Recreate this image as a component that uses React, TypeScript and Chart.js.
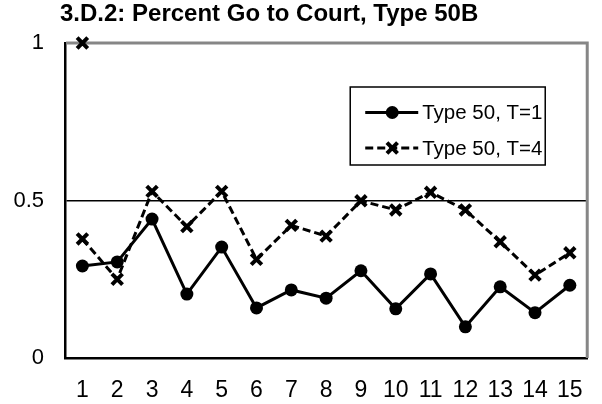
import { useEffect, useRef } from 'react';
import { Chart, registerables } from 'chart.js';

Chart.register(...registerables);

const categories = ['1', '2', '3', '4', '5', '6', '7', '8', '9', '10', '11', '12', '13', '14', '15'];
const seriesT1 = [0.292, 0.305, 0.441, 0.203, 0.352, 0.159, 0.216, 0.19, 0.277, 0.156, 0.267, 0.099, 0.226, 0.144, 0.231];
const seriesT4 = [0.378, 0.25, 0.529, 0.417, 0.529, 0.313, 0.421, 0.387, 0.499, 0.47, 0.526, 0.47, 0.369, 0.263, 0.334];
const seriesT4Extra = [1, null, null, null, null, null, null, null, null, null, null, null, null, null, null];
const yTicks = [0, 0.5, 1];
const titleText = '3.D.2: Percent Go to Court, Type 50B';
const legendLabels = ['Type 50, T=1', 'Type 50, T=4'];

const FONT = "'Liberation Sans', Arial, sans-serif";

function drawMarker(ctx: CanvasRenderingContext2D, style: string, x: number, y: number) {
  ctx.save();
  ctx.setLineDash([]);
  if (style === 'circle') {
    ctx.fillStyle = '#000';
    ctx.beginPath();
    ctx.arc(x, y, 6.5, 0, Math.PI * 2);
    ctx.fill();
  } else {
    const r = 5.3;
    ctx.strokeStyle = '#000';
    ctx.lineWidth = 4;
    ctx.beginPath();
    ctx.moveTo(x - r, y - r);
    ctx.lineTo(x + r, y + r);
    ctx.moveTo(x + r, y - r);
    ctx.lineTo(x - r, y + r);
    ctx.stroke();
  }
  ctx.restore();
}

const framePlugin = {
  id: 'frameTitleLegend',
  beforeDatasetsDraw(chart: any) {
    const { ctx, chartArea: a } = chart;
    ctx.save();
    ctx.strokeStyle = '#868686';
    ctx.lineWidth = 3;
    ctx.beginPath();
    ctx.moveTo(a.left + 1, a.top);
    ctx.lineTo(a.right, a.top);
    ctx.lineTo(a.right, a.bottom);
    ctx.stroke();
    ctx.restore();
  },
  afterDraw(chart: any) {
    const { ctx, chartArea: a } = chart;
    ctx.save();
    // title
    ctx.fillStyle = '#000';
    ctx.font = `bold 24px ${FONT}`;
    ctx.textAlign = 'left';
    ctx.textBaseline = 'alphabetic';
    ctx.fillText(titleText, 60, 21);

    // legend
    const bx = a.right - 237;
    const by = a.top + 44;
    const bw = 195;
    const bh = 78;
    ctx.fillStyle = '#fff';
    ctx.fillRect(bx, by, bw, bh);
    ctx.strokeStyle = '#000';
    ctx.lineWidth = 1.5;
    ctx.strokeRect(bx, by, bw, bh);
    const rows = [by + 25.5, by + 61];
    legendLabels.forEach((label, i) => {
      const ds = chart.data.datasets[i];
      const y = rows[i];
      ctx.save();
      ctx.strokeStyle = '#000';
      ctx.lineWidth = 3;
      ctx.setLineDash(ds.borderDash || []);
      ctx.beginPath();
      ctx.moveTo(bx + 15, y);
      ctx.lineTo(bx + 68, y);
      ctx.stroke();
      ctx.restore();
      drawMarker(ctx, ds.pointStyle, bx + 42, y);
      ctx.fillStyle = '#000';
      ctx.font = `20.5px ${FONT}`;
      ctx.textAlign = 'left';
      ctx.textBaseline = 'middle';
      ctx.fillText(label, bx + 72, y + 1);
    });
    ctx.restore();
  },
};

export default function App() {
  const ref = useRef<HTMLCanvasElement | null>(null);

  useEffect(() => {
    document.body.style.margin = '0';
    const canvas = ref.current;
    if (!canvas) return;
    const chart = new Chart(canvas, {
      type: 'line',
      data: {
        labels: categories,
        datasets: [
          {
            label: legendLabels[0],
            data: seriesT1,
            borderColor: '#000',
            backgroundColor: '#000',
            borderWidth: 3,
            pointStyle: 'circle',
            pointRadius: 6.5,
            pointBorderWidth: 0,
            pointBackgroundColor: '#000',
            tension: 0,
            clip: false,
          },
          {
            label: legendLabels[1],
            data: seriesT4,
            borderColor: '#000',
            backgroundColor: '#000',
            borderWidth: 3,
            borderDash: [8, 4],
            pointStyle: 'crossRot',
            pointRadius: 7.5,
            pointBorderWidth: 4,
            tension: 0,
            clip: false,
          },
          {
            label: '',
            data: seriesT4Extra,
            borderColor: '#000',
            backgroundColor: '#000',
            showLine: false,
            pointStyle: 'crossRot',
            pointRadius: 7.5,
            pointBorderWidth: 4,
            clip: false,
          },
        ],
      },
      options: {
        animation: false,
        responsive: false,
        maintainAspectRatio: false,
        layout: { padding: { top: 43, right: 5, left: 0, bottom: 0 } },
        plugins: {
          legend: { display: false },
          title: { display: false },
          tooltip: { enabled: false },
        },
        scales: {
          x: {
            offset: true,
            grid: { display: false, drawTicks: false },
            border: { display: true, color: '#000', width: 2.5 },
            ticks: {
              color: '#000',
              font: { family: FONT, size: 23 },
              padding: 19,
              maxRotation: 0,
              autoSkip: false,
            },
            afterFit: (s: any) => {
              s.height = 46;
            },
          },
          y: {
            min: 0,
            max: 1,
            afterBuildTicks: (s: any) => {
              s.ticks = yTicks.map((v) => ({ value: v }));
            },
            grid: {
              drawTicks: false,
              color: (c: any) => (c.tick && c.tick.value === 0.5 ? '#000' : 'rgba(0,0,0,0)'),
              lineWidth: 1.5,
            },
            border: { display: true, color: '#000', width: 2.5 },
            ticks: {
              color: '#000',
              font: { family: FONT, size: 22 },
              padding: 21,
              callback: (v: any) => String(v),
            },
            afterFit: (s: any) => {
              s.width = 65;
            },
          },
        },
      },
      plugins: [framePlugin],
    });
    return () => chart.destroy();
  }, []);

  return (
    <div style={{ position: 'absolute', left: 0, top: 0, width: 602, height: 404 }}>
      <canvas ref={ref} width={602} height={404} style={{ width: 602, height: 404, display: 'block' }} />
    </div>
  );
}
